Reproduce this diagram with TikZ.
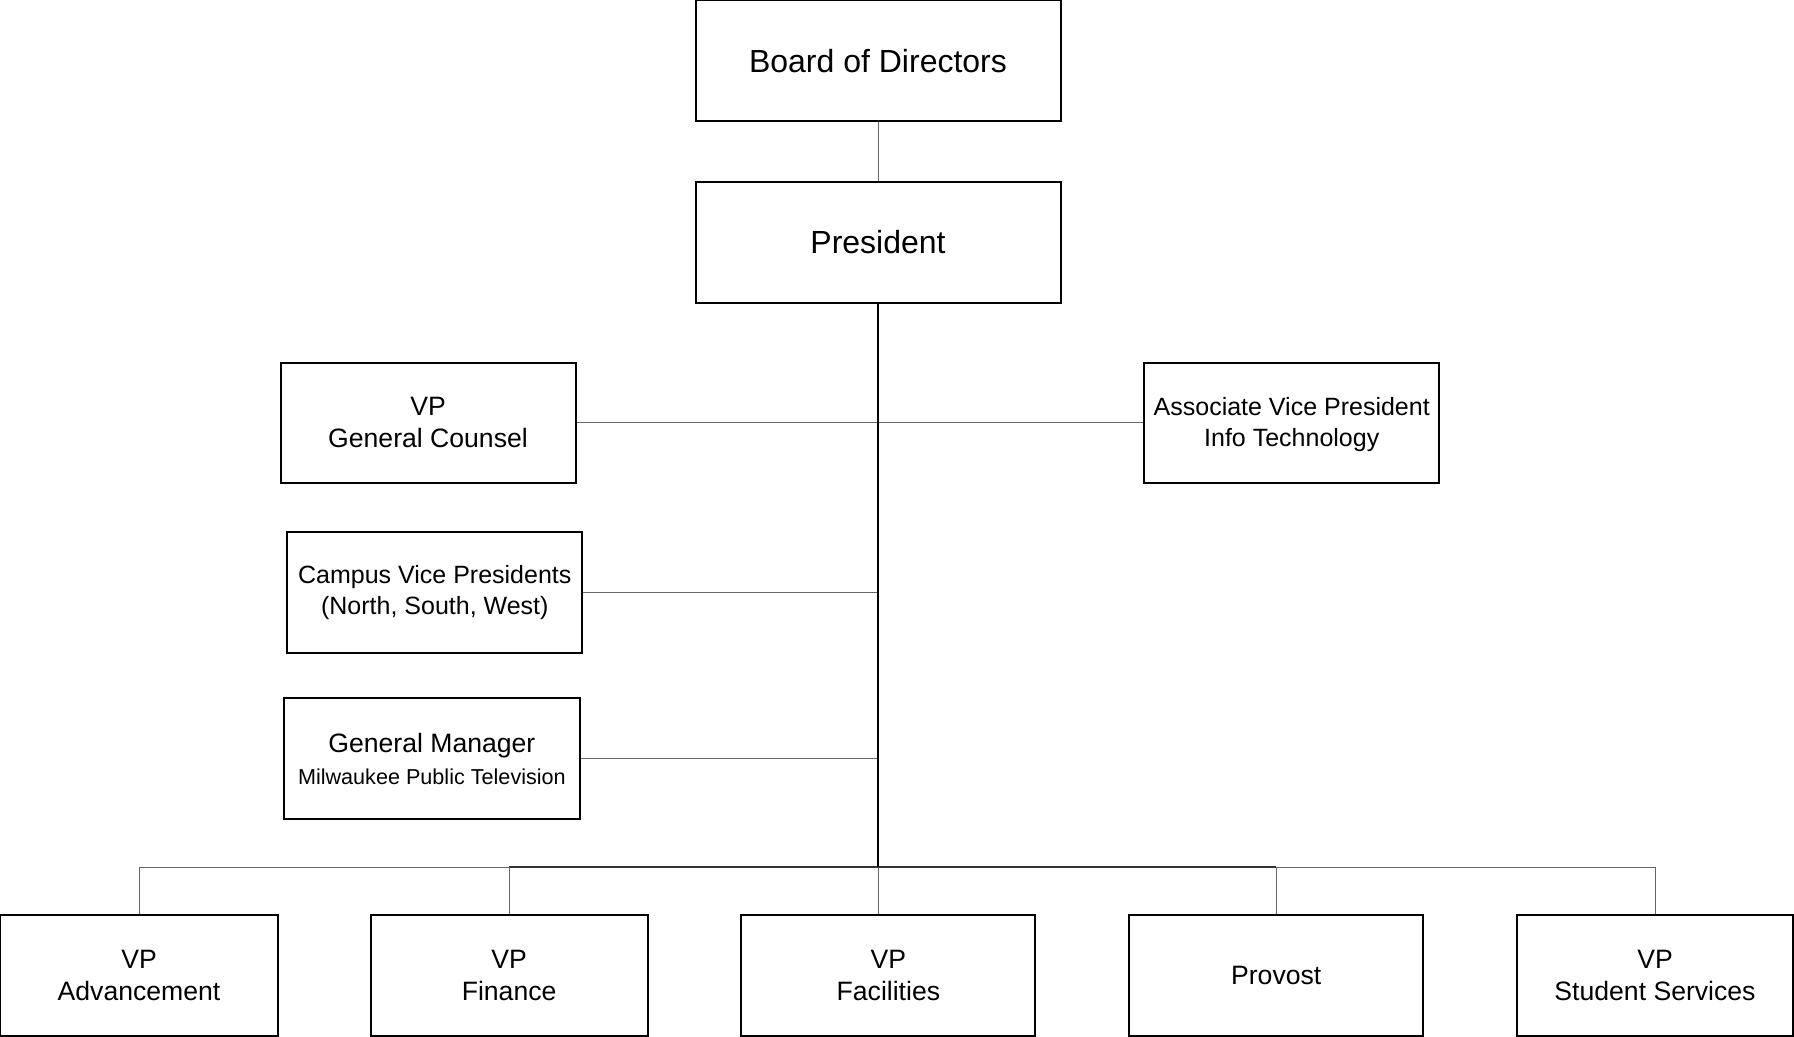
\documentclass[tikz,border=0pt]{standalone}
\usepackage{fontspec}
\setmainfont{Liberation Sans}
\begin{document}
\begin{tikzpicture}[x=0.5pt,y=-0.5pt,
  box/.style={draw=black,line width=1pt,rectangle,inner sep=0pt,align=center,minimum height=60.5pt},
  big/.style={font=\fontsize{16}{19}\selectfont},
  mid/.style={font=\fontsize{13.3}{16}\selectfont},
  sml/.style={font=\fontsize{12.5}{15.5}\selectfont},
  thin/.style={draw=black!60,line width=0.5pt},
  trunk/.style={draw=black,line width=1.1pt},
  busdark/.style={draw=black!80,line width=0.8pt}]
\useasboundingbox (0,0) rectangle (1794,1037);
\node[box,big,minimum width=182.5pt] (board) at (878,60.6) {Board of Directors};
\node[box,big,minimum width=182.5pt] (pres) at (878,242.5) {President};
\node[box,mid,minimum width=147.5pt,minimum height=60pt] (gc) at (428,422.7) {VP\\General Counsel};
\node[box,sml,minimum width=147.5pt,minimum height=60pt] (avp) at (1291.7,422.7) {\strut Associate Vice President\\Info Technology};
\node[box,sml,minimum width=147.5pt] (cvp) at (434.8,592.6) {Campus Vice Presidents\\(North, South, West)};
\node[box,font=\fontsize{13.3}{15.5}\selectfont,minimum width=148pt] (gm) at (431.9,758.5) {General Manager\\[0.5pt]{\fontsize{10.8}{15.5}\selectfont Milwaukee Public Television}};
\node[box,mid,minimum width=139pt] (adv) at (139,975.8) {VP\\Advancement};
\node[box,mid,minimum width=138.5pt] (fin) at (509.1,975.8) {VP\\Finance};
\node[box,mid,minimum width=147pt] (fac) at (888.4,975.8) {VP\\Facilities};
\node[box,mid,minimum width=147pt] (prov) at (1276.2,975.8) {Provost};
\node[box,mid,minimum width=138pt] (ss) at (1655,975.8) {VP\\Student Services};
\coordinate (bus) at (878,867.2);
\draw[thin] (board.south) -- (pres.south |- board.south) -- (pres.north);
\draw[thin] (gc.east) -- (avp.west);
\draw[thin] (cvp.east) -- (cvp.east -| pres.south);
\draw[thin] (gm.east) -- (gm.east -| pres.south);
\draw[thin] (adv.north |- bus) -- (ss.north |- bus);
\draw[busdark] (fin.north |- bus) -- (prov.north |- bus);
\draw[thin] (adv.north |- bus) -- (adv.north);
\draw[thin] (fin.north |- bus) -- (fin.north);
\draw[thin] (bus) -- (bus |- fac.north);
\draw[thin] (prov.north |- bus) -- (prov.north);
\draw[thin] (ss.north |- bus) -- (ss.north);
\draw[trunk] (pres.south) -- (bus);
\end{tikzpicture}
\end{document}
